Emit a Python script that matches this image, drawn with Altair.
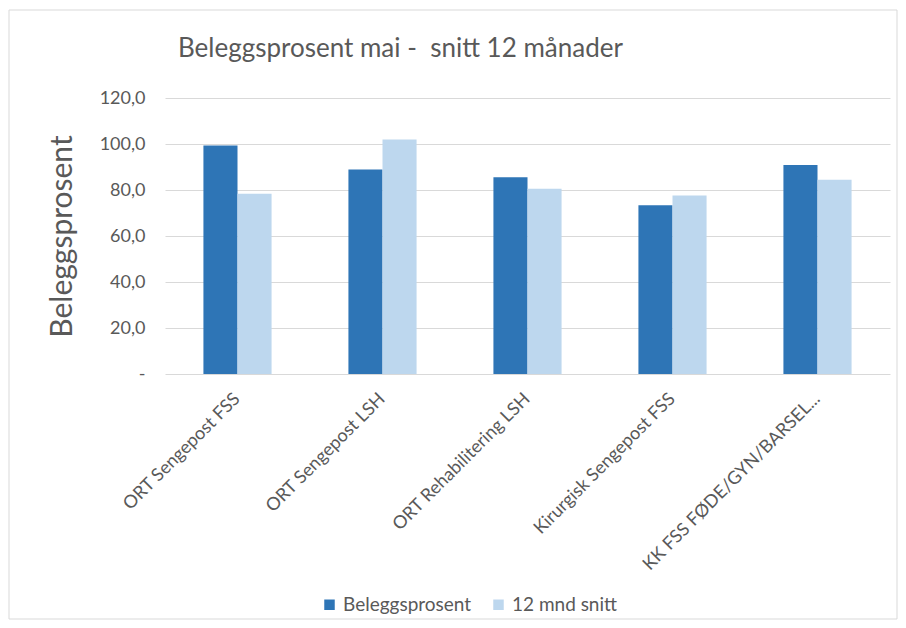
import altair as alt
import pandas as pd

categories = [
    "ORT Sengepost FSS",
    "ORT Sengepost LSH",
    "ORT Rehabilitering LSH",
    "Kirurgisk Sengepost FSS",
    "KK FSS FØDE/GYN/BARSEL...",
]
beleggsprosent = [99.3, 88.9, 85.5, 73.4, 90.9]
snitt_12mnd = [78.4, 102.0, 80.5, 77.6, 84.5]
series = ["Beleggsprosent", "12 mnd snitt"]
colors = ["#2E75B6", "#BDD7EE"]
y_ticks = [0, 20, 40, 60, 80, 100, 120]

rows = []
for c, a, b in zip(categories, beleggsprosent, snitt_12mnd):
    rows.append({"kategori": c, "serie": series[0], "verdi": a})
    rows.append({"kategori": c, "serie": series[1], "verdi": b})
df = pd.DataFrame(rows)

FONT = "Lato"
GREY = "#595959"

bars = alt.Chart(df).mark_bar().encode(
    x=alt.X(
        "kategori:N",
        sort=categories,
        scale=alt.Scale(paddingInner=0.53, paddingOuter=0.265),
        axis=alt.Axis(
            title=None,
            labelAngle=315,
            labelAlign="right",
            labelBaseline="middle",
            labelPadding=22,
            labelFontSize=18,
            labelColor=GREY,
            labelFont=FONT,
            domain=False,
            ticks=False,
            labelLimit=300,
        ),
    ),
    xOffset=alt.XOffset("serie:N", sort=series, scale=alt.Scale(paddingInner=0)),
    y=alt.Y(
        "verdi:Q",
        scale=alt.Scale(domain=[0, 120], nice=False),
        axis=alt.Axis(
            title="Beleggsprosent",
            values=y_ticks,
            labelExpr="datum.value == 0 ? '-' : replace(format(datum.value, '.1f'), '.', ',')",
            labelFontSize=18,
            labelColor=GREY,
            labelFont=FONT,
            labelPadding=20,
            domain=False,
            ticks=False,
            gridColor="#d9d9d9",
            gridWidth=1,
            titleFontSize=30,
            titleFontWeight="normal",
            titleColor=GREY,
            titleFont=FONT,
            titleX=-103,
            titleY=138,
            titleAlign="center",
            titleBaseline="middle",
        ),
    ),
    color=alt.Color(
        "serie:N",
        sort=series,
        scale=alt.Scale(domain=series, range=colors),
        title=None,
        legend=alt.Legend(
            orient="none",
            legendX=155,
            legendY=497,
            direction="horizontal",
            symbolType="square",
            symbolSize=110,
            symbolStrokeWidth=0,
            labelFontSize=19,
            labelColor=GREY,
            labelFont=FONT,
            columnPadding=17,
            labelOffset=4,
        ),
    ),
)

border = alt.Chart(alt.Data(values=[{"a": 1}])).mark_rect(
    fill="transparent", stroke="#d9d9d9", strokeWidth=1
).encode(
    x=alt.value(-156), x2=alt.value(732), y=alt.value(-88), y2=alt.value(521)
)

chart = (
    alt.layer(border, bars)
    .properties(
        width=725,
        height=276,
        padding={"left": 157, "top": 90, "right": 8, "bottom": 246},
        autosize=alt.AutoSizeParams(type="none"),
        title=alt.TitleParams(
            "Beleggsprosent mai - \u00a0snitt 12 månader",
            anchor="start",
            frame="group",
            dx=13,
            dy=86,
            offset=34,
            fontSize=26,
            fontWeight="normal",
            color=GREY,
            font=FONT,
        ),
    )
    .configure(background="white")
    .configure_view(stroke=None)
)

chart.save("out.html", embed_options={"renderer": "svg", "actions": False})
